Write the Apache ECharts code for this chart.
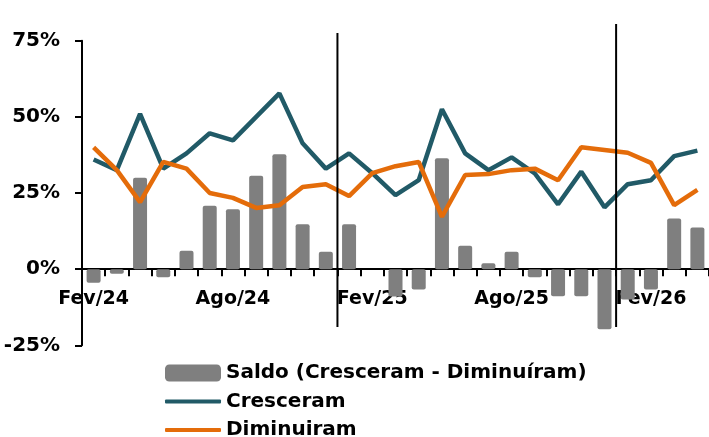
<!DOCTYPE html>
<html>
<head>
<meta charset="utf-8">
<script src="https://cdn.jsdelivr.net/npm/echarts@6/dist/echarts.min.js"></script>
<style>
  html, body { margin: 0; padding: 0; background: #fff; }
  #chart { width: 709px; height: 437px; }
</style>
</head>
<body>
<div id="chart"></div>
<script>
// Monthly survey: share of respondents reporting growth vs. decline (%)
const categories = [
  'Fev/24','Mar/24','Abr/24','Mai/24','Jun/24','Jul/24','Ago/24','Set/24','Out/24','Nov/24','Dez/24',
  'Jan/25','Fev/25','Mar/25','Abr/25','Mai/25','Jun/25','Jul/25','Ago/25','Set/25','Out/25','Nov/25','Dez/25',
  'Jan/26','Fev/26','Mar/26','Abr/26'
];
const saldo = [-4.5, -1.5, 30, -2.7, 6, 20.8, 19.7, 30.7, 37.7, 14.7, 5.7, 14.7, 0, -9, -6.7, 36.4, 7.7, 1.9, 5.7, -2.7, -8.9, -8.9, -19.7, -10, -6.7, 16.6, 13.7];
const cresceram = [36, 32.5, 51, 33, 38, 44.6, 42.3, 50, 57.7, 41.3, 33, 38, 31.5, 24.3, 29.2, 52.5, 38, 32.5, 36.7, 31.4, 21.3, 32, 20.3, 27.9, 29.2, 37.1, 38.9];
const diminuiram = [40, 32.5, 22, 35.2, 33, 25, 23.4, 20.1, 21, 27, 27.9, 24, 31.5, 33.8, 35.2, 17.2, 30.9, 31.2, 32.5, 33, 29.2, 40, 39.1, 38.2, 34.9, 21, 26];

// Year separators (between Dez and Jan), with their vertical extent in % units
const yearBreaks = [10.5, 22.5];
const breakTops = [77.5, 80.5];
const breakBottom = -19;

const yTicks = { min: -25, max: 75, step: 25 };

const FONT = 'DejaVu Sans';
const W = 709, H = 437;
const grid = { left: 82, right: 0, top: 40.7, bottom: 91.7 };

// The category axis sits on the 0% line: shift it up from the grid bottom
const plotHeight = H - grid.top - grid.bottom;
const zeroOffset = -plotHeight * (0 - yTicks.min) / (yTicks.max - yTicks.min);

const chart = echarts.init(document.getElementById('chart'), null, { renderer: 'canvas' });

const separatorSeries = yearBreaks.map((x, i) => ({
  type: 'line',
  xAxisIndex: 1,
  data: [[x, breakTops[i]], [x, breakBottom]],
  symbol: 'none',
  silent: true,
  clip: false,
  z: 5,
  lineStyle: { color: '#000', width: 2 }
}));

const legendText = { fontFamily: FONT, fontWeight: 'bold', fontSize: 20, color: '#000' };
const legendNames = ['Saldo (Cresceram - Diminuíram)', 'Cresceram', 'Diminuiram'];
const legendTops = [358, 386.5, 415];

chart.setOption({
  animation: false,
  backgroundColor: '#fff',
  grid: grid,
  legend: legendNames.map((name, i) => ({
    data: [name],
    left: 160,
    top: legendTops[i],
    itemWidth: 56,
    itemHeight: i === 0 ? 17 : 4,
    icon: 'roundRect',
    textStyle: legendText
  })),
  xAxis: [
    {
      type: 'category',
      data: categories,
      boundaryGap: true,
      position: 'bottom',
      offset: zeroOffset,
      axisLine: { onZero: false, lineStyle: { color: '#000', width: 2 } },
      axisTick: { show: true, interval: 0, length: 7, lineStyle: { color: '#000', width: 2 } },
      axisLabel: {
        interval: 5,
        margin: 20,
        fontFamily: FONT,
        fontWeight: 'bold',
        fontSize: 19,
        color: '#000'
      },
      splitLine: { show: false }
    },
    {
      type: 'value',
      show: false,
      min: -0.5,
      max: categories.length - 0.5
    }
  ],
  yAxis: {
    type: 'value',
    min: yTicks.min,
    max: yTicks.max,
    interval: yTicks.step,
    axisLine: { show: true, onZero: false, lineStyle: { color: '#000', width: 2 } },
    axisTick: { show: true, length: 7, lineStyle: { color: '#000', width: 2 } },
    axisLabel: {
      formatter: '{value}%',
      margin: 22,
      fontFamily: FONT,
      fontWeight: 'bold',
      fontSize: 20,
      color: '#000'
    },
    splitLine: { show: false }
  },
  series: [
    {
      name: legendNames[0],
      type: 'bar',
      data: saldo,
      barWidth: 14,
      itemStyle: { color: '#7f7f7f', borderRadius: 2 }
    },
    {
      name: legendNames[1],
      type: 'line',
      data: cresceram,
      symbol: 'none',
      lineStyle: { color: '#215a67', width: 4.5 },
      itemStyle: { color: '#215a67' }
    },
    {
      name: legendNames[2],
      type: 'line',
      data: diminuiram,
      symbol: 'none',
      lineStyle: { color: '#e46c0a', width: 4.5 },
      itemStyle: { color: '#e46c0a' }
    },
    ...separatorSeries
  ]
});
</script>
</body>
</html>
